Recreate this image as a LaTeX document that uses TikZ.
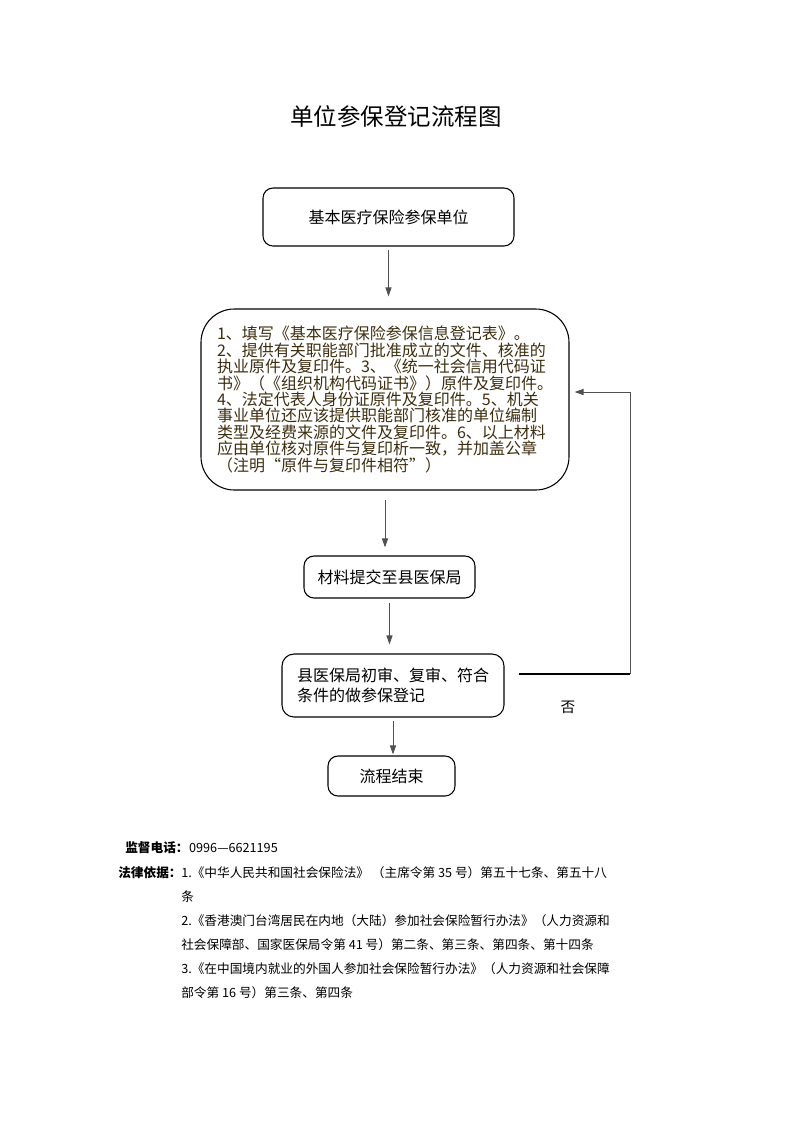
\documentclass[tikz,border=0pt]{standalone}
\usepackage{fontspec}
\setmainfont{Noto Sans CJK SC}
\usetikzlibrary{arrows.meta}

\definecolor{boxink}{RGB}{60,45,15}
\definecolor{linegray}{RGB}{80,80,80}

\tikzset{
  flowbox/.style={draw, line width=0.8pt, rounded corners=7.5pt, inner sep=0pt,
    font=\fontsize{12pt}{14.4pt}\selectfont},
  arr/.style={draw=linegray, line width=0.7pt, -{Triangle[length=6.75pt,width=4.5pt]}},
  lawline/.style={anchor=west, inner sep=0pt, font=\fontsize{9.5pt}{11pt}\selectfont},
}

\begin{document}
\begin{tikzpicture}[x=0.75pt, y=-0.75pt]
  \useasboundingbox (0,0) rectangle (793,1122);

  \node[font=\fontsize{17.6pt}{20pt}\selectfont] (title) at (396,117) {单位参保登记流程图};

  \node[flowbox, minimum width=188.25pt, minimum height=43.5pt] (b1) at (388.5,217) {基本医疗保险参保单位};

  \node[flowbox, rounded corners=25pt, minimum width=276pt, minimum height=135.75pt,
        align=left, text=boxink, font=\fontsize{12pt}{12.3pt}\selectfont] (b2) at (385,399.5)
    {1、填写《基本医疗保险参保信息登记表》。\\
     2、提供有关职能部门批准成立的文件、核准的\\
     执业原件及复印件。3、《统一社会信用代码证\\
     书》（《组织机构代码证书》）原件及复印件。\\
     4、法定代表人身份证原件及复印件。5、机关\\
     事业单位还应该提供职能部门核准的单位编制\\
     类型及经费来源的文件及复印件。6、以上材料\\
     应由单位核对原件与复印析一致，并加盖公章\\
     （注明“原件与复印件相符”）};

  \node[flowbox, minimum width=128.25pt, minimum height=31.5pt] (b3) at (389.5,577) {材料提交至县医保局};

  \node[flowbox, rounded corners=9pt, minimum width=166.5pt, minimum height=47.25pt,
        align=left, font=\fontsize{12pt}{15pt}\selectfont] (b4) at (393,685.5)
    {县医保局初审、复审、符合\\条件的做参保登记};

  \node[flowbox, minimum width=95.25pt, minimum height=30pt] (b5) at (391.5,776) {流程结束};

  \draw[arr, shorten <=2.25pt, shorten >=9pt] (b1.south) -- (b1.south |- b2.north);
  \draw[arr, shorten <=6.75pt, shorten >=6pt] (b2.south) -- (b2.south |- b3.north);
  \draw[arr, shorten <=3pt, shorten >=6.75pt] (b3.south) -- (b3.south |- b4.north);
  \draw[arr, shorten <=2.25pt, shorten >=0.75pt] (b4.south) -- (b4.south |- b5.north);

  \coordinate (fbA) at (519,674);
  \coordinate (fbB) at (630,674);
  \coordinate (fbC) at (630,392);
  \draw[line width=1.5pt] (fbA) -- (fbB);
  \draw[arr, shorten >=3.75pt] (fbB) -- (fbC) -- (fbC -| b2.east);
  \node[font=\fontsize{11pt}{13pt}\selectfont] (no) at (568,707) {否};

  \node[lawline, font=\fontsize{9.5pt}{11pt}\selectfont\bfseries] (tellbl) at (125,848) {监督电话：};
  \node[lawline] (telno) at (tellbl.east) {0996—6621195};
  \node[lawline, font=\fontsize{9.5pt}{11pt}\selectfont\bfseries] (lawlbl) at (118,873) {法律依据：};
  \node[lawline] (law1) at (181,873) {1.《中华人民共和国社会保险法》 （主席令第 35 号）第五十七条、第五十八};
  \node[lawline] (law1b) at (181,897) {条};
  \node[lawline] (law2) at (181,921) {2.《香港澳门台湾居民在内地（大陆）参加社会保险暂行办法》（人力资源和};
  \node[lawline] (law2b) at (181,945) {社会保障部、国家医保局令第 41 号）第二条、第三条、第四条、第十四条};
  \node[lawline] (law3) at (181,969) {3.《在中国境内就业的外国人参加社会保险暂行办法》（人力资源和社会保障};
  \node[lawline] (law3b) at (181,993) {部令第 16 号）第三条、第四条};
\end{tikzpicture}
\end{document}
